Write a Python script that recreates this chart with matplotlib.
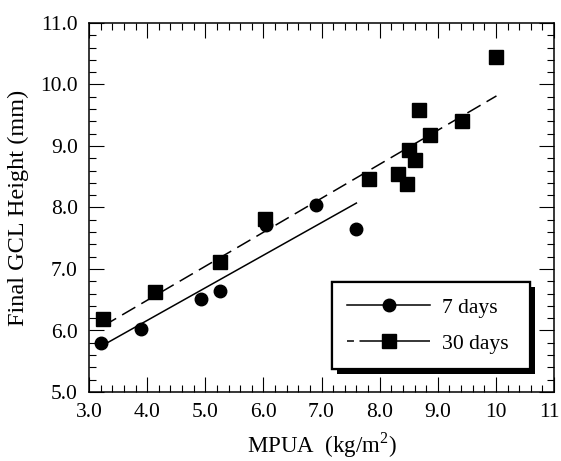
import numpy as np
import matplotlib
matplotlib.use("Agg")
import matplotlib.pyplot as plt
from matplotlib.ticker import MultipleLocator, FixedLocator, FixedFormatter
import matplotlib.patheffects as pe
import matplotlib.transforms as mtransforms

plt.rcParams['font.family'] = ['Liberation Serif', 'DejaVu Serif']
plt.rcParams['mathtext.fontset'] = 'custom'
plt.rcParams['mathtext.rm'] = 'Liberation Serif'
plt.rcParams['lines.scale_dashes'] = False

# data
x7 = [3.21, 3.89, 4.93, 5.25, 6.05, 6.91, 7.60]
y7 = [5.79, 6.02, 6.51, 6.64, 7.71, 8.04, 7.65]
x30 = [3.24, 4.14, 5.26, 6.02, 7.81, 8.32, 8.47, 8.50, 8.61, 8.68, 8.87, 9.42, 10.01]
y30 = [6.18, 6.63, 7.11, 7.82, 8.47, 8.54, 8.38, 8.93, 8.77, 9.59, 9.18, 9.41, 10.45]
xticks = [3, 4, 5, 6, 7, 8, 9, 10, 11]
xticklabels = ["3.0", "4.0", "5.0", "6.0", "7.0", "8.0", "9.0", "10", "11"]
yticks = [5, 6, 7, 8, 9, 10, 11]
yticklabels = ["5.0", "6.0", "7.0", "8.0", "9.0", "10.0", "11.0"]
labels = ["7 days", "30 days"]

fig = plt.figure(figsize=(5.61, 4.61), dpi=100)
ax = fig.add_axes([89/561, 1-392/461, (554-89)/561, (392-23)/461])

# fit lines
for xs, ys, ls in [(x7, y7, '-'), (x30, y30, '--')]:
    p = np.polyfit(xs, ys, 1)
    xx = np.array([min(xs), max(xs)])
    ln, = ax.plot(xx, np.polyval(p, xx), color='k', lw=1.1, ls=ls)
    if ls == '--':
        ln.set_dashes((11, 5))

ax.plot(x7, y7, 'o', color='k', ms=9, ls='none')
ax.plot(x30, y30, 's', color='k', ms=10, ls='none')

# legend handles
h1, = ax.plot([], [], color='k', lw=1.1, marker='o', ms=9)
h2, = ax.plot([], [], color='k', lw=1.1, marker='s', ms=10, dashes=(5, 4, 200, 1))
leg = ax.legend([h1, h2], labels, loc='lower left',
                bbox_to_anchor=(0.523, 0.062, 0.425, 0.24), mode='expand',
                fontsize=15.6, handlelength=3.8, handletextpad=0.55,
                labelspacing=0.75, borderaxespad=0, borderpad=0.7,
                fancybox=False, framealpha=1, edgecolor='k')
fr = leg.get_frame()
fr.set_linewidth(1.6)
fr.set_path_effects([pe.withSimplePatchShadow(offset=(3.8, -3.8), shadow_rgbFace='k', alpha=1), pe.Normal()])

ax.set_xlim(3, 11)
ax.set_ylim(5, 11)
ax.xaxis.set_major_locator(FixedLocator(xticks))
ax.xaxis.set_major_formatter(FixedFormatter(xticklabels))
ax.yaxis.set_major_locator(FixedLocator(yticks))
ax.yaxis.set_major_formatter(FixedFormatter(yticklabels))
ax.xaxis.set_minor_locator(MultipleLocator(0.2))
ax.yaxis.set_minor_locator(MultipleLocator(0.2))
ax.tick_params(which='both', direction='in', top=True, right=True, width=0.8, labelsize=15.5)
ax.tick_params(which='major', length=11, pad=8)
ax.tick_params(which='minor', length=5)
for s in ax.spines.values():
    s.set_linewidth(1.1)

ax.set_xlabel(r"MPUA  (kg/m$^2$)", fontsize=16.5, labelpad=6)
ax.set_ylabel("Final GCL Height (mm)", fontsize=17.5, labelpad=8)

# keep the last x tick label inside the figure
fig.canvas.draw()
last = ax.get_xticklabels()[-1]
last.set_transform(last.get_transform() + mtransforms.ScaledTranslation(-5/100, 0, fig.dpi_scale_trans))

fig.savefig("out.png", dpi=100)
